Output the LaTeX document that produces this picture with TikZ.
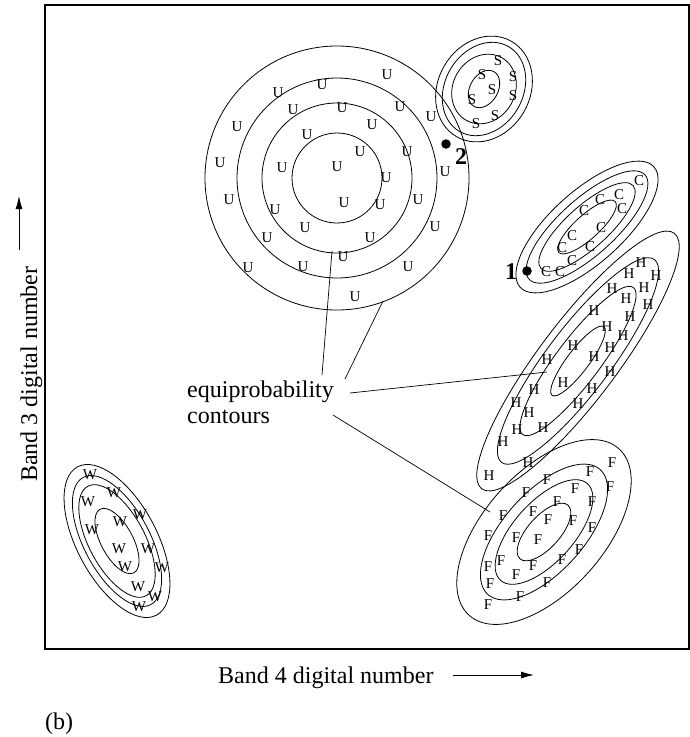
\documentclass[tikz,border=0pt]{standalone}
\usepackage{fontspec}
\setmainfont{Liberation Serif}
\usetikzlibrary{arrows.meta}
\begin{document}
\begin{tikzpicture}[x=1pt,y=-1pt,
  contour/.style={line width=0.8pt},
  frame/.style={line width=1.3pt},
  lt/.style={inner sep=0pt, font=\fontsize{15}{15}\selectfont},
  big/.style={inner sep=0pt, font=\fontsize{24}{26}\selectfont},
  num/.style={inner sep=0pt, font=\fontsize{24}{24}\selectfont\bfseries},
  dotmark/.style={circle, fill=black, inner sep=0pt, minimum size=9.5pt},
  leader/.style={line width=0.7pt},
  axarrow/.style={line width=0.9pt, -{Latex[length=13pt,width=7pt]}}]
\useasboundingbox (0,0) rectangle (690,737);
% frame
\draw[frame] (45,5) rectangle (689,649);
% U cluster
\foreach \r in {132,100,75,45} \draw[contour] (337,178) circle [radius=\r];
% S cluster
\foreach \a/\b in {55/46,49/39,36/31,20/14}
  \draw[contour, rotate around={60:(484,89)}] (484,89) ellipse [x radius=\a, y radius=\b];
% C cluster
\foreach \a/\b in {90/36,78/28,62/21,38/12}
  \draw[contour, rotate around={42:(587,227)}] (587,227) ellipse [x radius=\a, y radius=\b];
% H cluster
\foreach \a/\b in {160/39,127/32,92/22,43/11}
  \draw[contour, rotate around={53:(578,361)}] (578,361) ellipse [x radius=\a, y radius=\b];
% F cluster
\foreach \a/\b in {112/60,84/40,65/30,36/16}
  \draw[contour, rotate around={48:(544,532)}] (544,532) ellipse [x radius=\a, y radius=\b];
% W cluster
\foreach \a/\b in {84/40,72/33,62/28,36/16}
  \draw[contour, rotate around={-62:(117,541)}] (117,541) ellipse [x radius=\a, y radius=\b];
% letters
\foreach \p [count=\i] in {{387,75},{322,85},{278,93},{293,110},{342,108},{400,107},{431,117},{237,127},{372,125},{307,135},{360,152},{407,152},{220,163},{282,168},{337,167},{386,178},{445,172},{229,200},{344,203},{380,205},{418,200},{275,210},{435,227},{305,228},{267,238},{370,238},{343,257},{248,268},{303,267},{408,267},{355,297}}
  \node[lt] (u\i) at (\p) {U};
\foreach \p [count=\i] in {{498,61},{482,75},{513,77},{492,90},{513,96},{472,100},{495,116},{476,124}}
  \node[lt] (s\i) at (\p) {S};
\foreach \p [count=\i] in {{639,181},{619,195},{622,209},{600,200},{584,211},{601,228},{572,236},{562,248},{590,247},{572,261},{560,272},{546,272}}
  \node[lt] (c\i) at (\p) {C};
\foreach \p [count=\i] in {{641,263},{629,274},{656,276},{612,289},{644,288},{626,299},{594,311},{630,317},{648,305},{607,327},{623,336},{573,346},{610,348},{594,357},{547,360},{610,372},{563,383},{592,389},{534,390},{578,404},{516,403},{529,413},{517,430},{543,428},{503,442},{489,476},{528,463}}
  \node[lt] (h\i) at (\p) {H};
\foreach \p [count=\i] in {{612,463},{590,472},{610,487},{547,480},{575,489},{526,493},{592,502},{557,502},{533,512},{503,516},{548,520},{573,521},{592,528},{516,538},{488,536},{538,540},{579,550},{501,561},{488,567},{562,560},{533,566},{516,575},{547,583},{490,584},{520,597},{488,605}}
  \node[lt] (f\i) at (\p) {F};
\foreach \p [count=\i] in {{90,475},{88,502},{114,493},{140,515},{92,530},{120,522},{119,549},{148,549},{125,567},{162,568},{138,587},{155,597},{139,607}}
  \node[lt] (w\i) at (\p) {W};
% points 1 and 2
\node[dotmark] (pt1) at (527,271) {};
\node[num] (n1) at (511,272) {1};
\node[dotmark] (pt2) at (446,144) {};
\node[num] (n2) at (461,157) {2};
% label and leaders
\node[big, anchor=base west] (lab1) at (187,397) {equiprobability};
\node[big, anchor=base west] (lab2) at (187,423) {contours};
\coordinate (l1a) at (322,375); \coordinate (l1b) at (332,251);
\coordinate (l2a) at (345,379); \coordinate (l2b) at (383,301);
\coordinate (l3a) at (350,393); \coordinate (l3b) at (547,372);
\coordinate (l4a) at (333,415); \coordinate (l4b) at (490,512);
\draw[leader] (l1a) -- (l1b);
\draw[leader] (l2a) -- (l2b);
\draw[leader] (l3a) -- (l3b);
\draw[leader] (l4a) -- (l4b);
% axes labels
\node[big, anchor=base west] (xlab) at (218,683) {Band 4 digital number};
\coordinate (xa) at (453,675); \coordinate (xb) at (534,675);
\draw[axarrow] (xa) -- (xb);
\node[big, anchor=base west, rotate=90] (ylab) at (37,482) {Band 3 digital number};
\coordinate (ya) at (19,250); \coordinate (yb) at (19,196);
\draw[axarrow] (ya) -- (yb);
\node[big, anchor=base west] (cap) at (45,729) {(b)};
\end{tikzpicture}
\end{document}
